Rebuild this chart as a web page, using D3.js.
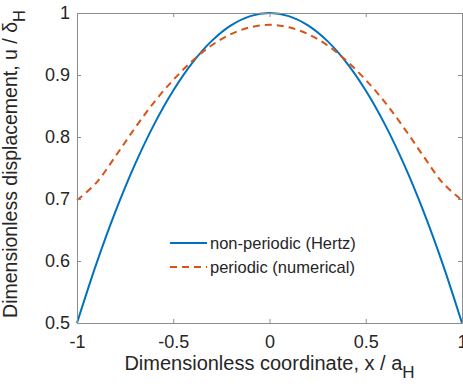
<!DOCTYPE html>
<html>
<head>
<meta charset="utf-8">
<script src="https://cdn.jsdelivr.net/npm/d3@7"></script>
<style>
body { margin: 0; background: #fff; }
text { font-family: "Liberation Sans", Arial, sans-serif; fill: #262626; }
</style>
</head>
<body>
<svg id="mainSvg" width="463" height="389"></svg>
<script>
// x positions (x / a_H)
var xs = [-1, -0.9, -0.8, -0.7, -0.6, -0.5, -0.4, -0.3, -0.2, -0.1, 0,
          0.1, 0.2, 0.3, 0.4, 0.5, 0.6, 0.7, 0.8, 0.9, 1];
// non-periodic (Hertz)
var hertz = [0.5, 0.595, 0.68, 0.755, 0.82, 0.875, 0.92, 0.955, 0.98, 0.995, 1.0,
             0.995, 0.98, 0.955, 0.92, 0.875, 0.82, 0.755, 0.68, 0.595, 0.5];
// periodic (numerical)
var periodic = [0.698, 0.726, 0.769, 0.814, 0.856, 0.892, 0.923, 0.948, 0.966, 0.977, 0.981,
                0.977, 0.966, 0.948, 0.923, 0.892, 0.856, 0.814, 0.769, 0.726, 0.698];
var xTicks = [-1, -0.5, 0, 0.5, 1];
var yTicks = [0.5, 0.6, 0.7, 0.8, 0.9, 1];
var seriesNames = ["non-periodic (Hertz)", "periodic (numerical)"];

var margin = {top: 13, right: 1, bottom: 66, left: 77},
    width = 463 - margin.left - margin.right,
    height = 389 - margin.top - margin.bottom;

var x = d3.scaleLinear().domain([-1, 1]).range([0, width]);
var y = d3.scaleLinear().domain([0.5, 1]).range([height, 0]);

var svg = d3.select("#mainSvg");
var g = svg.append("g").attr("transform", "translate(" + margin.left + "," + margin.top + ")");

var axisColor = "#8c8c8c";

// curves
var line = d3.line().curve(d3.curveCatmullRom)
    .x(function(d) { return x(d[0]); })
    .y(function(d) { return y(d[1]); });

g.append("path")
  .datum(d3.zip(xs, hertz))
  .attr("fill", "none")
  .attr("stroke", "#0072BD")
  .attr("stroke-width", 2)
  .attr("d", line);

g.append("path")
  .datum(d3.zip(xs, periodic))
  .attr("fill", "none")
  .attr("stroke", "#D95319")
  .attr("stroke-width", 2)
  .attr("stroke-dasharray", "7,5")
  .attr("d", line);

// axes (ticks pointing inward)
function styleAxis(sel) {
  sel.select(".domain").attr("stroke", axisColor);
  sel.selectAll(".tick line").attr("stroke", axisColor);
  sel.selectAll(".tick text").style("font-size", "18px").attr("fill", "#262626");
}
var plain = function(d) { return String(d); };

g.append("g")
  .attr("transform", "translate(0," + height + ")")
  .call(d3.axisBottom(x).tickValues(xTicks).tickSize(-4).tickSizeOuter(0).tickPadding(12)
        .tickFormat(plain))
  .call(styleAxis);

g.append("g")
  .call(d3.axisTop(x).tickValues(xTicks).tickSize(-4).tickSizeOuter(0).tickFormat(""))
  .call(styleAxis);

g.append("g")
  .call(d3.axisLeft(y).tickValues(yTicks).tickSize(-4).tickSizeOuter(0).tickPadding(7)
        .tickFormat(plain))
  .call(styleAxis);

g.append("g")
  .attr("transform", "translate(" + width + ",0)")
  .call(d3.axisRight(y).tickValues(yTicks).tickSize(-4).tickSizeOuter(0).tickFormat(""))
  .call(styleAxis);

g.selectAll(".domain").attr("stroke-width", 1);

// x label
var xl = svg.append("text")
  .attr("x", margin.left + width / 2)
  .attr("y", 370)
  .attr("text-anchor", "middle")
  .style("font-size", "20px");
xl.append("tspan").text("Dimensionless coordinate, x / a");
xl.append("tspan").attr("dy", 8).style("font-size", "17px").text("H");

// y label
var yl = svg.append("text")
  .attr("transform", "translate(17," + (margin.top + height / 2 - 4) + ") rotate(-90)")
  .attr("text-anchor", "middle")
  .style("font-size", "19.5px");
yl.append("tspan").text("Dimensionless displacement, u / \u03B4");
yl.append("tspan").attr("dy", 8).style("font-size", "16.5px").text("H");

// legend
var legend = g.append("g").attr("transform", "translate(" + (170 - margin.left) + "," + (243 - margin.top) + ")");
seriesNames.forEach(function(name, i) {
  var row = legend.append("g").attr("transform", "translate(0," + (i * 24) + ")");
  row.append("line")
    .attr("x1", 0).attr("x2", 37).attr("y1", 0).attr("y2", 0)
    .attr("stroke", i === 0 ? "#0072BD" : "#D95319")
    .attr("stroke-width", 2)
    .attr("stroke-dasharray", i === 0 ? null : "7,5");
  row.append("text")
    .attr("x", 40).attr("y", 0).attr("dy", "0.35em")
    .style("font-size", "16.5px")
    .text(name);
});
</script>
</body>
</html>
